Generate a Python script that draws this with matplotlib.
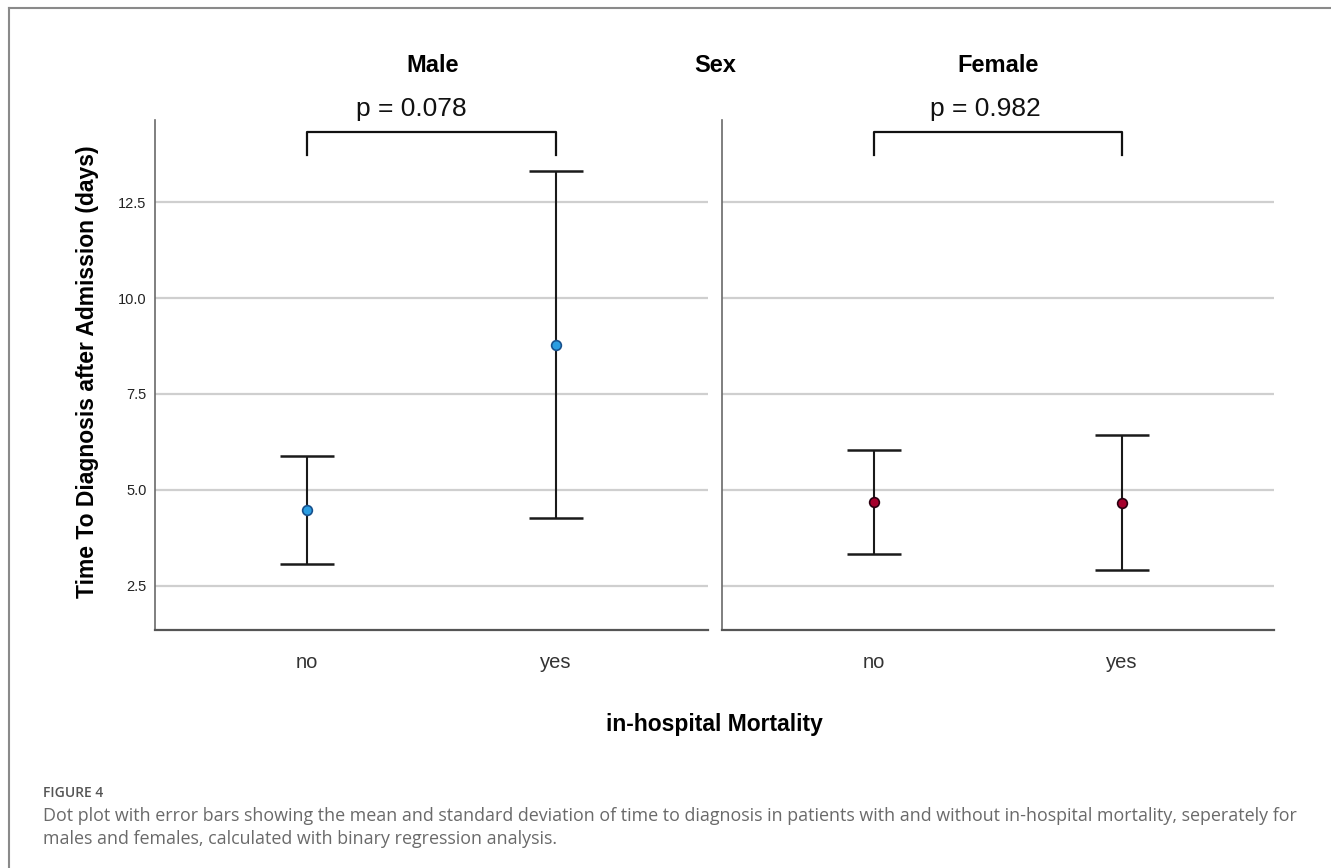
import matplotlib
matplotlib.use("Agg")
import matplotlib.pyplot as plt
from matplotlib.lines import Line2D

# data
categories = ["no", "yes"]
sexes = ["Male", "Female"]
male_mean = [4.47, 8.78]
male_sd = [1.40, 4.52]
female_mean = [4.68, 4.66]
female_sd = [1.35, 1.76]
p_values = ["0.078", "0.982"]
y_ticks = [2.5, 5.0, 7.5, 10.0, 12.5]

W, H = 1331, 868
fig = plt.figure(figsize=(W / 100, H / 100), dpi=100)


def fx(x):
    return x / W


def fy(y):
    return 1 - y / H


chart_font = "Liberation Sans"
cap_font = "Open Sans"

# axes boxes in pixels (left, right, top, bottom)
ax_top, ax_bot = 119.6, 630.4
boxes = [(155, 708), (722, 1273.5)]
axes = []
for (x0, x1) in boxes:
    ax = fig.add_axes([fx(x0), fy(ax_bot), (x1 - x0) / W, (ax_bot - ax_top) / H])
    axes.append(ax)

series = [(male_mean, male_sd, "#2a9de2", "#17508c"),
          (female_mean, female_sd, "#a5002c", "#2a0010")]

for i, ax in enumerate(axes):
    mean, sd, fc, ec = series[i]
    xs = list(range(len(categories)))
    ax.set_xlim(-0.61, 1.61)
    ax.set_ylim(1.336, 14.65)
    ax.set_yticks(y_ticks)
    ax.yaxis.grid(True, color="#cfcfcf", lw=1.6, zorder=0)
    ax.set_axisbelow(True)
    ax.errorbar(xs, mean, yerr=sd, fmt="none", ecolor="#1a1a1a", elinewidth=1.5,
                capsize=19.5, capthick=1.8, zorder=3)
    ax.plot(xs, mean, "o", ms=7, mfc=fc, mec=ec, mew=1.2, zorder=4)

    ax.set_xticks(xs)
    ax.set_xticklabels(categories, fontsize=14.5, fontfamily=chart_font, color="#333333")
    ax.tick_params(axis="x", length=0, pad=16)
    if i == 0:
        ax.set_yticklabels([f"{t:.1f}" for t in y_ticks], fontsize=10.5,
                           fontfamily=chart_font, color="#222222")
        ax.tick_params(axis="y", length=0, pad=6)
    else:
        ax.tick_params(axis="y", length=0, labelleft=False)

    for s in ["top", "right"]:
        ax.spines[s].set_visible(False)
    ax.spines["left"].set_color("#6a6a6a")
    ax.spines["left"].set_linewidth(1.2)
    ax.spines["bottom"].set_color("#555555")
    ax.spines["bottom"].set_linewidth(1.6)

    # significance bracket
    b_low, b_high = 13.72, 14.33
    ax.plot([0, 0, 1, 1], [b_low, b_high, b_high, b_low], color="#111111",
            lw=1.6, clip_on=False, solid_joinstyle="round", zorder=5)
    tx = [0.42, 0.45][i]
    ax.text(tx, 14.92, f"p = {p_values[i]}", ha="center", va="center",
            fontsize=19, fontfamily=chart_font, color="#111111", clip_on=False)

# panel headers
fig.text(fx(433), fy(66), sexes[0], ha="center", va="center", fontsize=17,
         fontweight="bold", fontfamily=chart_font)
fig.text(fx(715), fy(66), "Sex", ha="center", va="center", fontsize=17,
         fontweight="bold", fontfamily=chart_font)
fig.text(fx(998), fy(66), sexes[1], ha="center", va="center", fontsize=17,
         fontweight="bold", fontfamily=chart_font)

fig.text(fx(88), fy(372), "Time To Diagnosis after Admission (days)", rotation=90,
         ha="center", va="center", fontsize=16.5, fontweight="bold", fontfamily=chart_font)
fig.text(fx(714), fy(724), "in-hospital Mortality", ha="center", va="center",
         fontsize=16.5, fontweight="bold", fontfamily=chart_font)

# caption
fig.text(fx(43), fy(793), "FIGURE 4", ha="left", va="center", fontsize=10,
         fontweight="semibold", fontfamily=cap_font, color="#555555")
fig.text(fx(43), fy(816), "Dot plot with error bars showing the mean and standard deviation of time to "
         "diagnosis in patients with and without in-hospital mortality, seperately for",
         ha="left", va="center", fontsize=12.9, fontfamily=cap_font, color="#6a6a6a")
fig.text(fx(43), fy(839), "males and females, calculated with binary regression analysis.",
         ha="left", va="center", fontsize=12.9, fontfamily=cap_font, color="#6a6a6a")

# frame lines (top and left)
fig.add_artist(Line2D([fx(9), 1], [fy(8), fy(8)], color="#8a8a8a", lw=1.5))
fig.add_artist(Line2D([fx(9), fx(9)], [fy(8), 0], color="#8a8a8a", lw=1.5))

fig.savefig("out.png", dpi=100)
